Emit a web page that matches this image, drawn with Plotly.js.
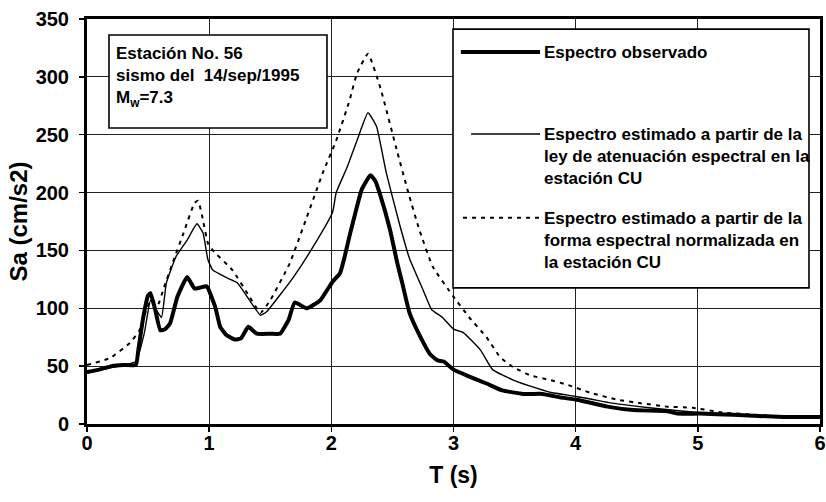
<!DOCTYPE html>
<html>
<head>
<meta charset="utf-8">
<script src="https://cdn.plot.ly/plotly-3.0.1.min.js"></script>
<style>
  html, body { margin: 0; padding: 0; background: #fff; }
  #chart { width: 826px; height: 502px; }
</style>
</head>
<body>
<div id="chart"></div>
<script>
// Response spectra, station No. 56, 14 Sep 1995 event
// Period T (s) and spectral acceleration Sa (cm/s2)

const obsT = [0, 0.1, 0.2, 0.3, 0.4, 0.42, 0.46, 0.50, 0.52, 0.56, 0.60, 0.64, 0.68, 0.74, 0.82, 0.88, 0.93, 0.98, 1.05, 1.09, 1.14, 1.21, 1.26, 1.32, 1.39, 1.50, 1.58, 1.65, 1.70, 1.80, 1.91, 2.01, 2.07, 2.11, 2.15, 2.21, 2.25, 2.32, 2.36, 2.40, 2.48, 2.54, 2.58, 2.64, 2.73, 2.81, 2.87, 2.92, 3.0, 3.13, 3.27, 3.40, 3.57, 3.73, 3.87, 4.01, 4.26, 4.47, 4.75, 4.83, 5.02, 5.29, 5.70, 6.0];
const obsSa = [45, 47, 50, 51, 51, 64, 92, 111, 113, 98, 81, 82, 87, 110, 127, 117, 118, 119, 101, 84, 77, 73, 74, 84, 78, 78, 78, 90, 105, 100, 107, 123, 130, 145, 163, 188, 203, 215, 210, 198, 168, 139, 122, 96, 75, 60, 55, 54, 47, 41, 35, 29, 26, 26, 23, 21, 15, 12, 11, 9, 9, 8, 6, 6];

const lawT = [0, 0.21, 0.4, 0.47, 0.52, 0.57, 0.61, 0.65, 0.73, 0.82, 0.90, 0.95, 0.99, 1.03, 1.15, 1.23, 1.33, 1.42, 1.47, 1.69, 1.85, 2.01, 2.04, 2.13, 2.21, 2.30, 2.37, 2.45, 2.56, 2.64, 2.75, 2.82, 2.91, 3.0, 3.08, 3.22, 3.32, 3.49, 3.68, 3.81, 3.93, 4.1, 4.3, 4.6, 5.0, 5.5, 6.0];
const lawSa = [44, 49, 54, 79, 107, 98, 92, 122, 145, 159, 173, 165, 142, 133, 126, 122, 107, 94, 97, 127, 153, 183, 200, 222, 245, 269, 257, 217, 172, 143, 116, 99, 92, 82, 79, 64, 47, 38, 31, 27, 25, 22, 18, 14, 10, 7, 6];

const formT = [0, 0.19, 0.35, 0.43, 0.49, 0.53, 0.58, 0.63, 0.71, 0.79, 0.88, 0.91, 0.95, 0.99, 1.03, 1.19, 1.33, 1.42, 1.50, 1.66, 1.80, 1.93, 2.04, 2.15, 2.21, 2.30, 2.40, 2.54, 2.63, 2.72, 2.83, 3.0, 3.13, 3.27, 3.38, 3.49, 3.63, 3.79, 3.93, 4.12, 4.34, 4.53, 4.75, 4.96, 5.2, 5.6, 6.0];
const formSa = [51, 57, 70, 81, 100, 108, 103, 118, 142, 165, 191, 193, 176, 156, 150, 133, 110, 96, 107, 139, 179, 217, 245, 280, 303, 320, 291, 235, 200, 168, 136, 110, 92, 75, 58, 49, 42, 38, 34, 27, 21, 18, 15, 14, 10, 7, 6];

const seriesNames = [
  'Espectro observado',
  'Espectro estimado a partir de la<br>ley de atenuación espectral en la<br>estación CU',
  'Espectro estimado a partir de la<br>forma espectral normalizada en<br>la estación CU'
];

const xTicks = [0, 1, 2, 3, 4, 5, 6];
const yTicks = [0, 50, 100, 150, 200, 250, 300, 350];

const FONT = '"Liberation Sans", Arial, Helvetica, sans-serif';
const DASH = '4px,5px';

const traces = [
  { x: formT, y: formSa, mode: 'lines', name: seriesNames[2],
    line: { color: '#000', width: 2, dash: DASH, shape: 'spline', smoothing: 0.4 } },
  { x: lawT, y: lawSa, mode: 'lines', name: seriesNames[1],
    line: { color: '#000', width: 1.4, shape: 'spline', smoothing: 0.4 } },
  { x: obsT, y: obsSa, mode: 'lines', name: seriesNames[0],
    line: { color: '#000', width: 4, shape: 'spline', smoothing: 0.4 } }
];

function axisStyle(ticks) {
  return {
    tickmode: 'array', tickvals: ticks, ticktext: ticks.map(String),
    showgrid: true, gridcolor: '#222222', gridwidth: 1,
    showline: true, linecolor: '#000', linewidth: 3, mirror: true,
    ticks: 'outside', ticklen: 5, tickwidth: 1.5, tickcolor: '#000',
    zeroline: false,
    tickfont: { family: FONT, size: 20, color: '#000', weight: 'bold' }
  };
}

// custom legend and info box drawn in paper coordinates
const legendBox = { x0: 0.4993, x1: 0.985, y0: 0.336, y1: 0.975 };
const infoBox = { x0: 0.030, x1: 0.3274, y0: 0.731, y1: 0.9605 };

const shapes = [
  { type: 'rect', xref: 'paper', yref: 'paper',
    x0: infoBox.x0, x1: infoBox.x1, y0: infoBox.y0, y1: infoBox.y1,
    fillcolor: '#fff', line: { color: '#000', width: 1.6 }, layer: 'above' },
  { type: 'rect', xref: 'paper', yref: 'paper',
    x0: legendBox.x0, x1: legendBox.x1, y0: legendBox.y0, y1: legendBox.y1,
    fillcolor: '#fff', line: { color: '#000', width: 1.6 }, layer: 'above' },
  { type: 'line', xref: 'paper', yref: 'paper', x0: 0.510, x1: 0.618, y0: 0.9185, y1: 0.9185,
    line: { color: '#000', width: 4 }, layer: 'above' },
  { type: 'line', xref: 'paper', yref: 'paper', x0: 0.524, x1: 0.618, y0: 0.716, y1: 0.716,
    line: { color: '#000', width: 1.4 }, layer: 'above' },
  { type: 'line', xref: 'paper', yref: 'paper', x0: 0.513, x1: 0.618, y0: 0.509, y1: 0.509,
    line: { color: '#000', width: 2, dash: DASH }, layer: 'above' }
];

const textFont = { family: FONT, size: 17, color: '#000', weight: 'bold' };

const annotations = [
  { xref: 'paper', yref: 'paper', x: 0.037, y: 0.942, xanchor: 'left', yanchor: 'top',
    align: 'left', showarrow: false, font: textFont,
    text: 'Estación No. 56<br>sismo del  14/sep/1995<br>M<sub>w</sub>=7.3' },
  { xref: 'paper', yref: 'paper', x: 0.6207, y: 0.9185, xanchor: 'left', yanchor: 'middle',
    align: 'left', showarrow: false, font: textFont, text: seriesNames[0] },
  { xref: 'paper', yref: 'paper', x: 0.6207, y: 0.743, xanchor: 'left', yanchor: 'top',
    align: 'left', showarrow: false, font: textFont, text: seriesNames[1] },
  { xref: 'paper', yref: 'paper', x: 0.6207, y: 0.535, xanchor: 'left', yanchor: 'top',
    align: 'left', showarrow: false, font: textFont, text: seriesNames[2] }
];

const layout = {
  width: 826, height: 502,
  margin: { l: 87, r: 6, t: 19, b: 78, pad: 0 },
  paper_bgcolor: '#fff', plot_bgcolor: '#fff',
  showlegend: false,
  font: { family: FONT, color: '#000' },
  xaxis: Object.assign(axisStyle(xTicks), {
    range: [0, 6], ticklabelstandoff: -6,
    title: { text: 'T (s)', font: { family: FONT, size: 23, weight: 'bold', color: '#000' }, standoff: 14 }
  }),
  yaxis: Object.assign(axisStyle(yTicks), {
    range: [0, 350], ticklabelstandoff: 6,
    title: { text: 'Sa (cm/s2)', font: { family: FONT, size: 24, weight: 'bold', color: '#000' }, standoff: 2 }
  }),
  shapes: shapes,
  annotations: annotations
};

Plotly.newPlot('chart', traces, layout, { staticPlot: true, displayModeBar: false });
</script>
</body>
</html>
